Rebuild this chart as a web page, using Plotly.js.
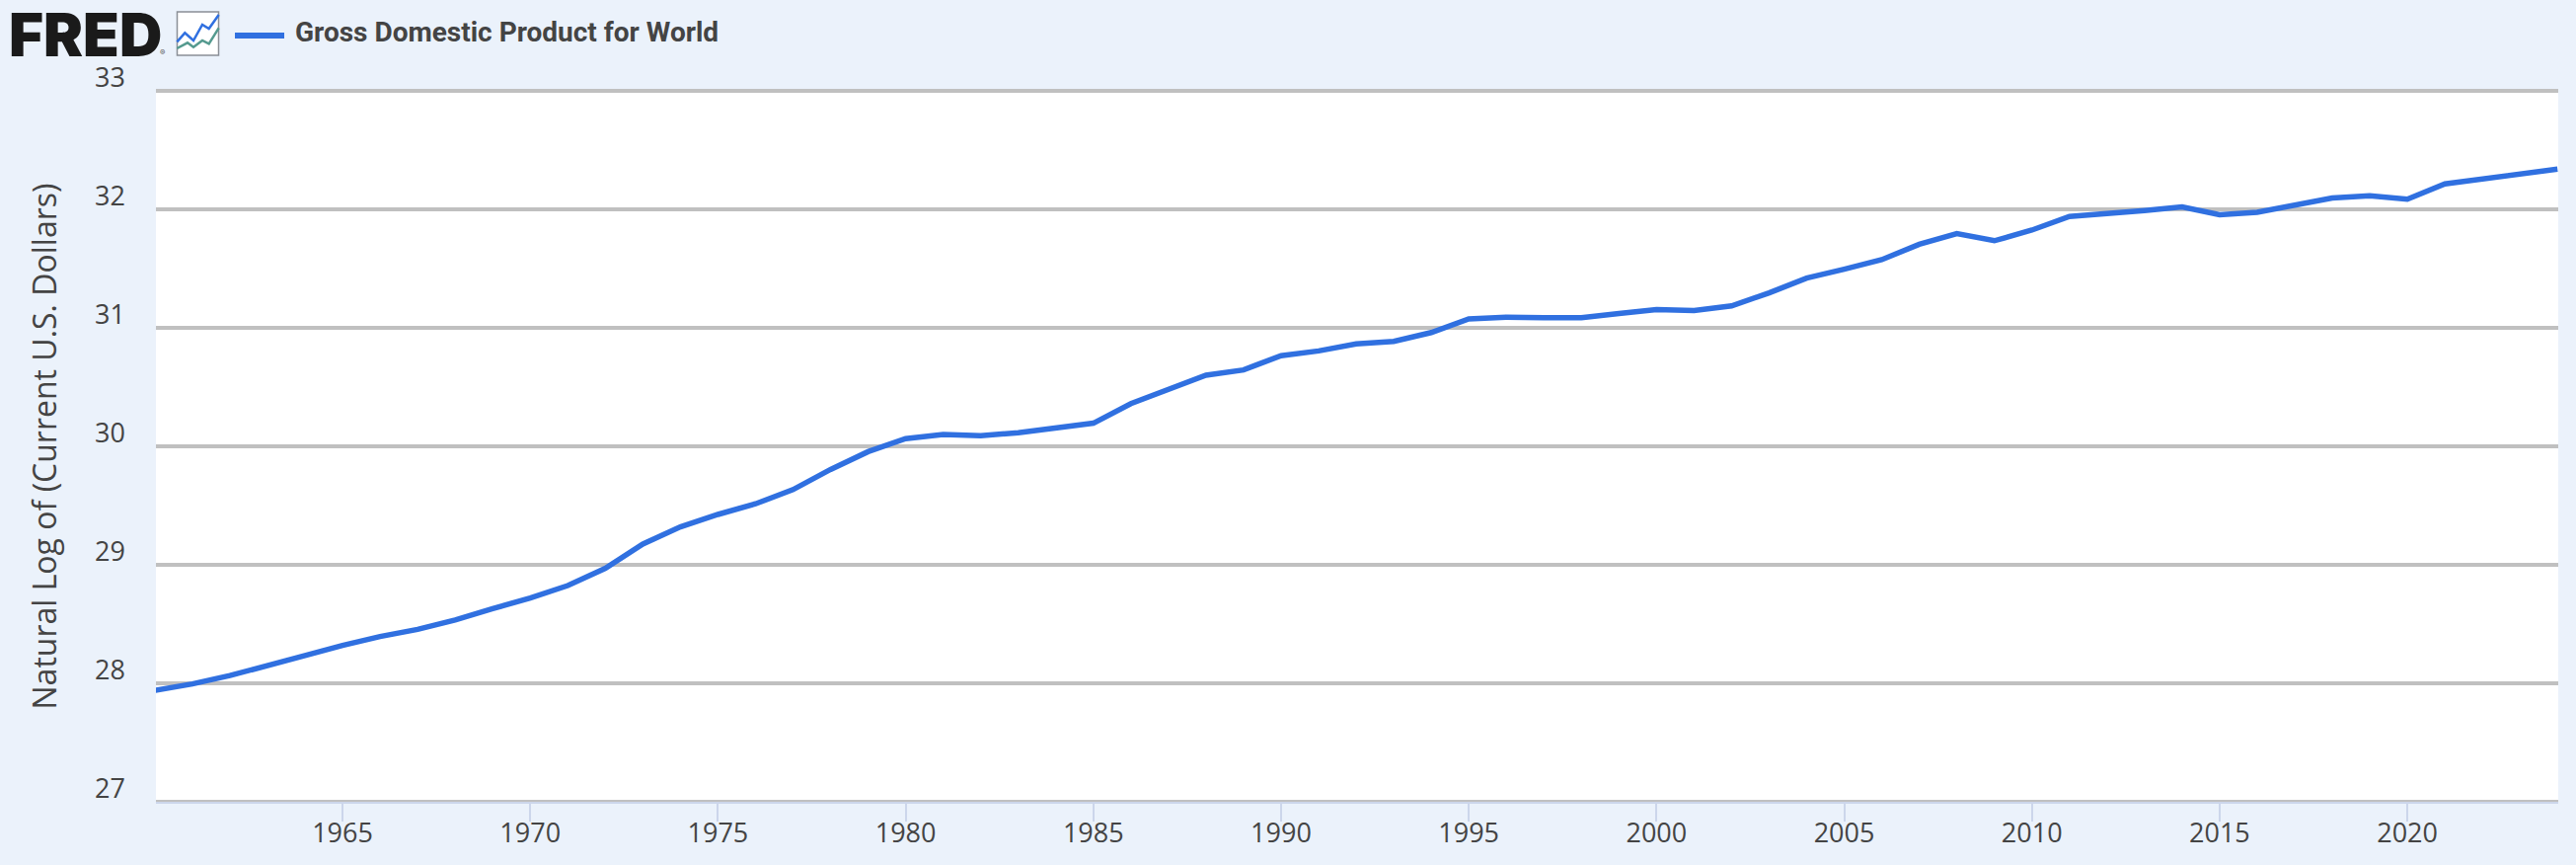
<!DOCTYPE html>
<html>
<head>
<meta charset="utf-8">
<script src="https://cdn.plot.ly/plotly-3.0.1.min.js"></script>
<style>html,body{margin:0;padding:0;background:#ebf2fb}#chart{width:2610px;height:876px}</style>
</head>
<body>
<div id="chart"></div>
<script>
const years = [1960,1961,1962,1963,1964,1965,1966,1967,1968,1969,
  1970,1971,1972,1973,1974,1975,1976,1977,1978,1979,
  1980,1981,1982,1983,1984,1985,1986,1987,1988,1989,
  1990,1991,1992,1993,1994,1995,1996,1997,1998,1999,
  2000,2001,2002,2003,2004,2005,2006,2007,2008,2009,
  2010,2011,2012,2013,2014,2015,2016,2017,2018,2019,
  2020,2021,2022,2023,2024];
const logGdp = [27.94,27.995,28.065,28.145,28.235,28.32,28.395,28.455,28.535,28.63,
  28.72,28.825,28.97,29.175,29.32,29.425,29.515,29.635,29.805,29.955,
  30.065,30.10,30.09,30.115,30.155,30.195,30.36,30.485,30.60,30.645,
  30.765,30.805,30.865,30.885,30.96,31.075,31.09,31.085,31.085,31.12,
  31.155,31.145,31.185,31.295,31.42,31.495,31.575,31.705,31.795,31.735,
  31.825,31.94,31.96,31.99,32.02,31.955,31.975,32.035,32.095,32.115,
  32.085,32.215,32.255,32.30,32.34];
const xTicks = [1965,1970,1975,1980,1985,1990,1995,2000,2005,2010,2015,2020];
const yTicks = [27,28,29,30,31,32,33];
const seriesName = 'Gross Domestic Product for World';
const yTitle = 'Natural Log of (Current U.S. Dollars)';

const W = 2610, H = 876, L = 158, R = 18, T = 92, B = 64;
const px = x => (x - L) / (W - L - R);
const py = y => (H - B - y) / (H - T - B);
const pathOf = pts => pts.map((p, i) => (i ? 'L' : 'M') + px(p[0]) + ',' + py(p[1])).join(' ');
const iconPt = p => [170 + p[0] / 3, 5 + p[1] / 3];
const iconBlue = [[28,112],[52,85],[78,108],[105,60],[125,72],[155,30]].map(iconPt);
const iconTeal = [[28,132],[60,115],[78,128],[105,108],[125,118],[155,70]].map(iconPt);

const textColor = '#444444';
const lineColor = '#3070e0';
const gridColor = '#c0c0c0';
const labelFont = {family: '"Open Sans", sans-serif', size: 27, color: textColor};
const trace = {
  x: years, y: logGdp, type: 'scatter', mode: 'lines', name: seriesName,
  line: {color: lineColor, width: 5.5}, hoverinfo: 'x+y', showlegend: false
};
const layout = {
  width: W, height: H,
  paper_bgcolor: '#ebf2fb', plot_bgcolor: '#ffffff',
  margin: {l: L, r: R, t: T, b: B, pad: 0},
  showlegend: false,
  xaxis: {
    type: 'linear', range: [1960.03, 2024.02], tickmode: 'array', tickvals: xTicks,
    ticktext: xTicks.map(String),
    showgrid: false, zeroline: false, showline: true, linecolor: '#ccd6eb', linewidth: 2,
    ticks: 'outside', ticklen: 18, tickwidth: 2, tickcolor: '#ccd6eb', ticklabelstandoff: -11,
    tickfont: labelFont
  },
  yaxis: {
    range: [27, 33], tickmode: 'array', tickvals: yTicks,
    showgrid: true, gridcolor: gridColor, gridwidth: 4, zeroline: false, showline: false,
    ticks: '', showticklabels: false,
    title: {text: yTitle, standoff: 89,
      font: {family: '"Open Sans", sans-serif', size: 32, color: textColor}}
  },
  shapes: [
    {type: 'rect', xref: 'paper', yref: 'paper', x0: 0, x1: 1, y0: py(94), y1: py(90),
     fillcolor: gridColor, line: {width: 0}},
    {type: 'rect', xref: 'paper', yref: 'paper', x0: 0, x1: 1, y0: py(812), y1: py(810),
     fillcolor: gridColor, line: {width: 0}},
    {type: 'line', xref: 'paper', yref: 'paper', x0: px(238), x1: px(288), y0: py(36), y1: py(36),
     line: {color: lineColor, width: 6}},
    {type: 'rect', xref: 'paper', yref: 'paper', x0: px(179.5), x1: px(221.5), y0: py(56), y1: py(12),
     fillcolor: '#ffffff', line: {color: '#8a8f96', width: 1.5}},
    {type: 'path', xref: 'paper', yref: 'paper', path: pathOf(iconTeal), line: {color: '#559a8f', width: 2.5}},
    {type: 'path', xref: 'paper', yref: 'paper', path: pathOf(iconBlue), line: {color: lineColor, width: 2.5}}
  ],
  annotations: [
    {text: 'FRED', xref: 'paper', yref: 'paper', x: px(8), y: py(35), xanchor: 'left', yanchor: 'middle',
     showarrow: false, borderpad: 0, font: {family: 'Inter, sans-serif', size: 60, color: '#1a1a1a', weight: 900}},
    {text: '®', xref: 'paper', yref: 'paper', x: px(161), y: py(52.5), xanchor: 'left', yanchor: 'middle',
     showarrow: false, borderpad: 0, font: {family: 'Inter, sans-serif', size: 8, color: '#555555'}},
    {text: seriesName, xref: 'paper', yref: 'paper', x: px(298), y: py(32), xanchor: 'left', yanchor: 'middle',
     showarrow: false, borderpad: 0, font: {family: 'Roboto, sans-serif', size: 28, color: textColor, weight: 700}}
  ].concat(yTicks.map(v => ({
    text: String(v), xref: 'paper', yref: 'y', x: px(128), y: v, yshift: 15,
    xanchor: 'right', yanchor: 'middle', showarrow: false, borderpad: 0, font: labelFont
  })))
};
Plotly.newPlot('chart', [trace], layout, {displayModeBar: false, responsive: false});
</script>
</body>
</html>
